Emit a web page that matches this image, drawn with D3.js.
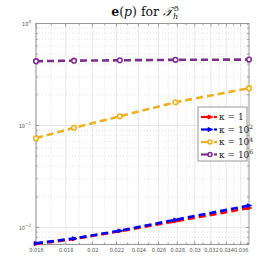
<!DOCTYPE html>
<html>
<head>
<style>
  body { margin: 0; background: white; }
  .tick text { font: 5.6px "Liberation Sans Narrow", "DejaVu Sans Condensed", sans-serif; fill: #555; }
</style>
</head>
<body>
<svg width="275" height="275"></svg>
<script src="https://cdnjs.cloudflare.com/ajax/libs/d3/7.8.5/d3.min.js"></script>
<script>
var hValues = [0.0160, 0.0186, 0.0223, 0.0278, 0.0372];
var kappa1 = [0.0069, 0.0077, 0.0092, 0.0115, 0.0155];
var kappa2 = [0.0070, 0.0078, 0.0093, 0.0119, 0.0164];
var kappa4 = [0.075, 0.095, 0.123, 0.169, 0.232];
var kappa6 = [0.427, 0.432, 0.436, 0.440, 0.443];
var xTicks = [0.016, 0.018, 0.02, 0.022, 0.024, 0.026, 0.028, 0.03, 0.032, 0.034, 0.036];
var xTickLabels = ["0.016", "0.018", "0.02", "0.022", "0.024", "0.026", "0.028", "0.03", "0.032", "0.034", "0.036"];
var legendLabels = ["1", "2", "4", "6"];

var series = [
  {vals: kappa1, color: "#ff0000", marker: "tri", exp: null},
  {vals: kappa2, color: "#0000ff", marker: "tri", exp: "2"},
  {vals: kappa4, color: "#edb120", marker: "circ", exp: "4"},
  {vals: kappa6, color: "#7e2f8e", marker: "circ", exp: "6"}
];

var svg = d3.select("svg");
var mLeft = 36, mRight = 249, mTop = 23.5, mBottom = 244.5;

var x = d3.scaleLog().domain([0.016, 0.0372]).range([mLeft, mRight]);
var y = d3.scaleLog().domain([Math.pow(10, -2.167), 1]).range([mBottom, mTop]);

// grid
var g = svg.append("g");
var minorY = [];
[-3, -2, -1].forEach(function(e) {
  for (var k = 2; k <= 9; k++) {
    var v = k * Math.pow(10, e);
    if (v >= y.domain()[0] && v <= 1) minorY.push(v);
  }
});
g.selectAll(".my").data(minorY).enter().append("line")
  .attr("x1", mLeft).attr("x2", mRight)
  .attr("y1", function(d) { return y(d); }).attr("y2", function(d) { return y(d); })
  .attr("stroke", "#d0d0d0").attr("stroke-width", 0.6).attr("stroke-dasharray", "1,2");
var minorX = [];
for (var v = 0.017; v < 0.0372; v += 0.002) minorX.push(v);
g.selectAll(".mx").data(minorX).enter().append("line")
  .attr("y1", mTop).attr("y2", mBottom)
  .attr("x1", function(d) { return x(d); }).attr("x2", function(d) { return x(d); })
  .attr("stroke", "#d0d0d0").attr("stroke-width", 0.6).attr("stroke-dasharray", "1,2");
g.selectAll(".gy").data([0.01, 0.1]).enter().append("line")
  .attr("x1", mLeft).attr("x2", mRight)
  .attr("y1", function(d) { return y(d); }).attr("y2", function(d) { return y(d); })
  .attr("stroke", "#e3e3e3").attr("stroke-width", 0.8);
g.selectAll(".gx").data(xTicks).enter().append("line")
  .attr("y1", mTop).attr("y2", mBottom)
  .attr("x1", function(d) { return x(d); }).attr("x2", function(d) { return x(d); })
  .attr("stroke", "#e3e3e3").attr("stroke-width", 0.8);

// axes
var xAxis = d3.axisBottom(x).tickValues(xTicks).tickSize(0).tickPadding(4)
  .tickFormat(function(d, i) { return xTickLabels[i]; });
svg.append("g").attr("transform", "translate(0," + mBottom + ")").call(xAxis)
  .call(function(s) { s.select(".domain").remove(); });

var yAxis = d3.axisLeft(y).tickValues([0.01, 0.1, 1]).tickSize(0).tickPadding(5).tickFormat("");
var ya = svg.append("g").attr("transform", "translate(" + mLeft + ",0)").call(yAxis);
ya.select(".domain").remove();
ya.selectAll(".tick").each(function(d) {
  var t = d3.select(this).select("text");
  var e = Math.round(Math.log10(d));
  t.text("10");
  t.append("tspan").attr("dy", -2.5).style("font-size", "4.5px").text(e === 0 ? "0" : "\u2212" + (-e));
});

// tick marks on all sides
var tk = svg.append("g").attr("stroke", "#666").attr("stroke-width", 0.6);
minorY.concat([0.01, 0.1]).forEach(function(d) {
  var len = (d === 0.01 || d === 0.1) ? 3 : 1.8;
  tk.append("line").attr("x1", mLeft).attr("x2", mLeft + len).attr("y1", y(d)).attr("y2", y(d));
  tk.append("line").attr("x1", mRight).attr("x2", mRight - len).attr("y1", y(d)).attr("y2", y(d));
});
xTicks.concat(minorX).forEach(function(d) {
  var len = xTicks.indexOf(d) >= 0 ? 3 : 1.8;
  tk.append("line").attr("y1", mBottom).attr("y2", mBottom - len).attr("x1", x(d)).attr("x2", x(d));
  tk.append("line").attr("y1", mTop).attr("y2", mTop + len).attr("x1", x(d)).attr("x2", x(d));
});
svg.append("rect").attr("x", mLeft).attr("y", mTop).attr("width", mRight - mLeft).attr("height", mBottom - mTop)
  .attr("fill", "none").attr("stroke", "#7f7f7f").attr("stroke-width", 0.8);

// lines
var line = d3.line().x(function(d, i) { return x(hValues[i]); }).y(function(d) { return y(d); });
function marker(sel, type, color, r) {
  if (type === "circ") {
    sel.append("circle").attr("r", r).attr("fill", "white").attr("stroke", color).attr("stroke-width", 1.6);
  } else {
    sel.append("path").attr("d", "M" + (-r) + "," + (-r) + "L" + (r + 1) + ",0L" + (-r) + "," + r + "Z")
      .attr("fill", color).attr("stroke", color).attr("stroke-width", 0.8);
  }
}
series.forEach(function(s) {
  svg.append("path").datum(s.vals).attr("d", line)
    .attr("fill", "none").attr("stroke", s.color).attr("stroke-width", 2.6)
    .attr("stroke-dasharray", "7,4");
  s.vals.forEach(function(v, i) {
    var m = svg.append("g").attr("transform", "translate(" + x(hValues[i]) + "," + y(v) + ")");
    marker(m, s.marker, s.color, s.marker === "tri" ? 1.8 : 2.3);
  });
});

// legend
var lg = svg.append("g").attr("transform", "translate(198,107)");
lg.append("rect").attr("width", 49).attr("height", 54).attr("fill", "white")
  .attr("stroke", "#7f7f7f").attr("stroke-width", 0.8);
series.forEach(function(s, i) {
  var yy = 10 + i * 12.5;
  lg.append("line").attr("x1", 3).attr("x2", 13).attr("y1", yy).attr("y2", yy)
    .attr("stroke", s.color).attr("stroke-width", 2.2);
  lg.append("line").attr("x1", 16).attr("x2", 19).attr("y1", yy).attr("y2", yy)
    .attr("stroke", s.color).attr("stroke-width", 2.2);
  var m = lg.append("g").attr("transform", "translate(12," + yy + ")");
  marker(m, s.marker, s.color, 2);
  var t = lg.append("text").attr("x", 21).attr("y", yy + 3)
    .style("font", "9px 'DejaVu Serif', serif").attr("fill", "#222");
  t.append("tspan").text("κ = " + (s.exp ? "10" : "1"));
  if (s.exp) t.append("tspan").attr("dy", -3.5).style("font-size", "6px").text(legendLabels[i]);
});

// title
var title = svg.append("text").attr("x", 145).attr("y", 16).attr("text-anchor", "middle")
  .style("font", "12.5px 'DejaVu Serif', serif").attr("fill", "#111");
title.append("tspan").style("font-weight", "bold").text("e");
title.append("tspan").text("(");
title.append("tspan").style("font-style", "italic").text("p");
title.append("tspan").text(") for ");
title.append("tspan").style("font-style", "italic").text("𝒯");
title.append("tspan").attr("dy", 3).style("font-size", "8px").style("font-style", "italic").text("h");
title.append("tspan").attr("dy", -8).attr("dx", -4.5).style("font-size", "8px").text("3");
</script>
</body>
</html>
